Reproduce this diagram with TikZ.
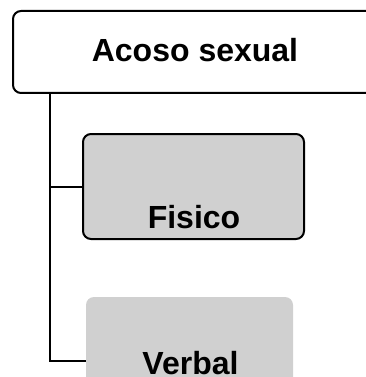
\documentclass[tikz,border=0pt]{standalone}
\usepackage{fontspec}
\setmainfont{Liberation Sans}
\definecolor{boxgray}{RGB}{208,208,208}
\tikzset{
  catbox/.style={draw=black, line width=2pt, rounded corners=8pt, inner sep=0pt},
  subbox/.style={catbox, fill=boxgray},
  plainbox/.style={fill=boxgray, rounded corners=8pt, inner sep=0pt},
  boxtext/.style={anchor=base, inner sep=0pt, font=\fontsize{32}{36}\selectfont\bfseries}
}
\begin{document}
\begin{tikzpicture}[x=1pt,y=-1pt]
      \useasboundingbox (0,0) rectangle (366,377);
      \fill[white] (0,0) rectangle (366,377);
      \draw
        (200,52) node[catbox, minimum width=374pt, minimum height=82pt] (acoso){}
        (193.5,186.5) node[subbox, minimum width=221pt, minimum height=105pt] (fisico){}
        (189.5,350) node[plainbox, minimum width=207pt, minimum height=106pt] (verbal){};
      \node[boxtext] at (195,62) {Acoso sexual};
      \node[boxtext] at (194,228) {Fisico};
      \node[boxtext] at (190.5,374) {Verbal};
      \coordinate (trunk) at (49.5,93);
      \begin{scope}[line width=2pt]
        \draw (trunk) |- (fisico.west);
        \draw (trunk) |- ([yshift=-10.5pt]verbal.west);
      \end{scope}
    \end{tikzpicture}
\end{document}
